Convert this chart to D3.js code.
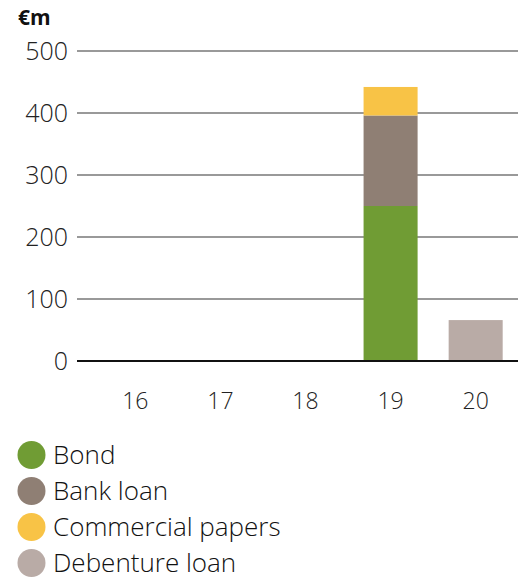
<!DOCTYPE html>
<html>
<head>
<meta charset="utf-8">
<script src="https://cdn.jsdelivr.net/npm/d3@7"></script>
<style>
  html, body { margin: 0; padding: 0; background: #fff; }
  svg { display: block; font-family: "Open Sans", "Noto Sans", sans-serif; }
</style>
</head>
<body>
<svg id="chart" width="518" height="579"></svg>
<script>
// Financing maturities by year, €m
const years = ["16", "17", "18", "19", "20"];
const seriesNames = ["Bond", "Bank loan", "Commercial papers", "Debenture loan"];
const seriesColors = ["#709c34", "#8f7f74", "#f8c346", "#b9aba6"];
const bond = [0, 0, 0, 250, 0];
const bankLoan = [0, 0, 0, 146, 0];
const commercialPapers = [0, 0, 0, 46, 0];
const debentureLoan = [0, 0, 0, 0, 66];
const yTicks = [0, 100, 200, 300, 400, 500];

const rows = years.map((y, i) => ({
  year: y,
  "Bond": bond[i],
  "Bank loan": bankLoan[i],
  "Commercial papers": commercialPapers[i],
  "Debenture loan": debentureLoan[i]
}));

const svg = d3.select("#chart");

const x = d3.scaleBand().domain(years).range([93, 518]).paddingInner(0.365).paddingOuter(0.18);
const y = d3.scaleLinear().domain([0, 500]).range([361, 51]);

// Grid lines
svg.append("g").selectAll("line")
  .data(yTicks.filter(t => t > 0))
  .join("line")
  .attr("x1", 77).attr("x2", 518)
  .attr("y1", d => y(d)).attr("y2", d => y(d))
  .attr("stroke", "#777").attr("stroke-width", 1.5);

// Y tick labels
svg.append("g").selectAll("text")
  .data(yTicks)
  .join("text")
  .attr("x", 68).attr("y", d => y(d))
  .attr("dy", "0.35em")
  .attr("text-anchor", "end")
  .attr("font-size", 25).attr("font-weight", 300)
  .attr("fill", "#222")
  .text(d => d);

// Unit label
svg.append("text")
  .attr("x", 18).attr("y", 25)
  .attr("font-size", 21).attr("font-weight", 700)
  .attr("fill", "#111")
  .text("€m");

// Stacked bars
const stack = d3.stack().keys(seriesNames);
const layers = stack(rows);
svg.append("g").selectAll("g")
  .data(layers)
  .join("g")
  .attr("fill", (d, i) => seriesColors[i])
  .selectAll("rect")
  .data(d => d.filter(s => s[1] - s[0] > 0))
  .join("rect")
  .attr("x", d => x(d.data.year))
  .attr("width", x.bandwidth())
  .attr("y", d => y(d[1]))
  .attr("height", d => y(d[0]) - y(d[1]));

// Baseline
svg.append("line")
  .attr("x1", 77).attr("x2", 518)
  .attr("y1", y(0)).attr("y2", y(0))
  .attr("stroke", "#111").attr("stroke-width", 2);

// X labels
svg.append("g").selectAll("text")
  .data(years)
  .join("text")
  .attr("x", d => x(d) + x.bandwidth() / 2)
  .attr("y", 401)
  .attr("dy", "0.35em")
  .attr("text-anchor", "middle")
  .attr("font-size", 23).attr("font-weight", 300)
  .attr("fill", "#222")
  .text(d => d);

// Legend
const legend = svg.append("g").selectAll("g")
  .data(seriesNames)
  .join("g")
  .attr("transform", (d, i) => `translate(0, ${455 + i * 36})`);
legend.append("circle")
  .attr("cx", 31.5).attr("cy", 0).attr("r", 14)
  .attr("fill", (d, i) => seriesColors[i]);
legend.append("text")
  .attr("x", 53).attr("y", 0).attr("dy", "0.35em")
  .attr("font-size", 26).attr("font-weight", 300)
  .attr("fill", "#111")
  .text(d => d);
</script>
</body>
</html>
